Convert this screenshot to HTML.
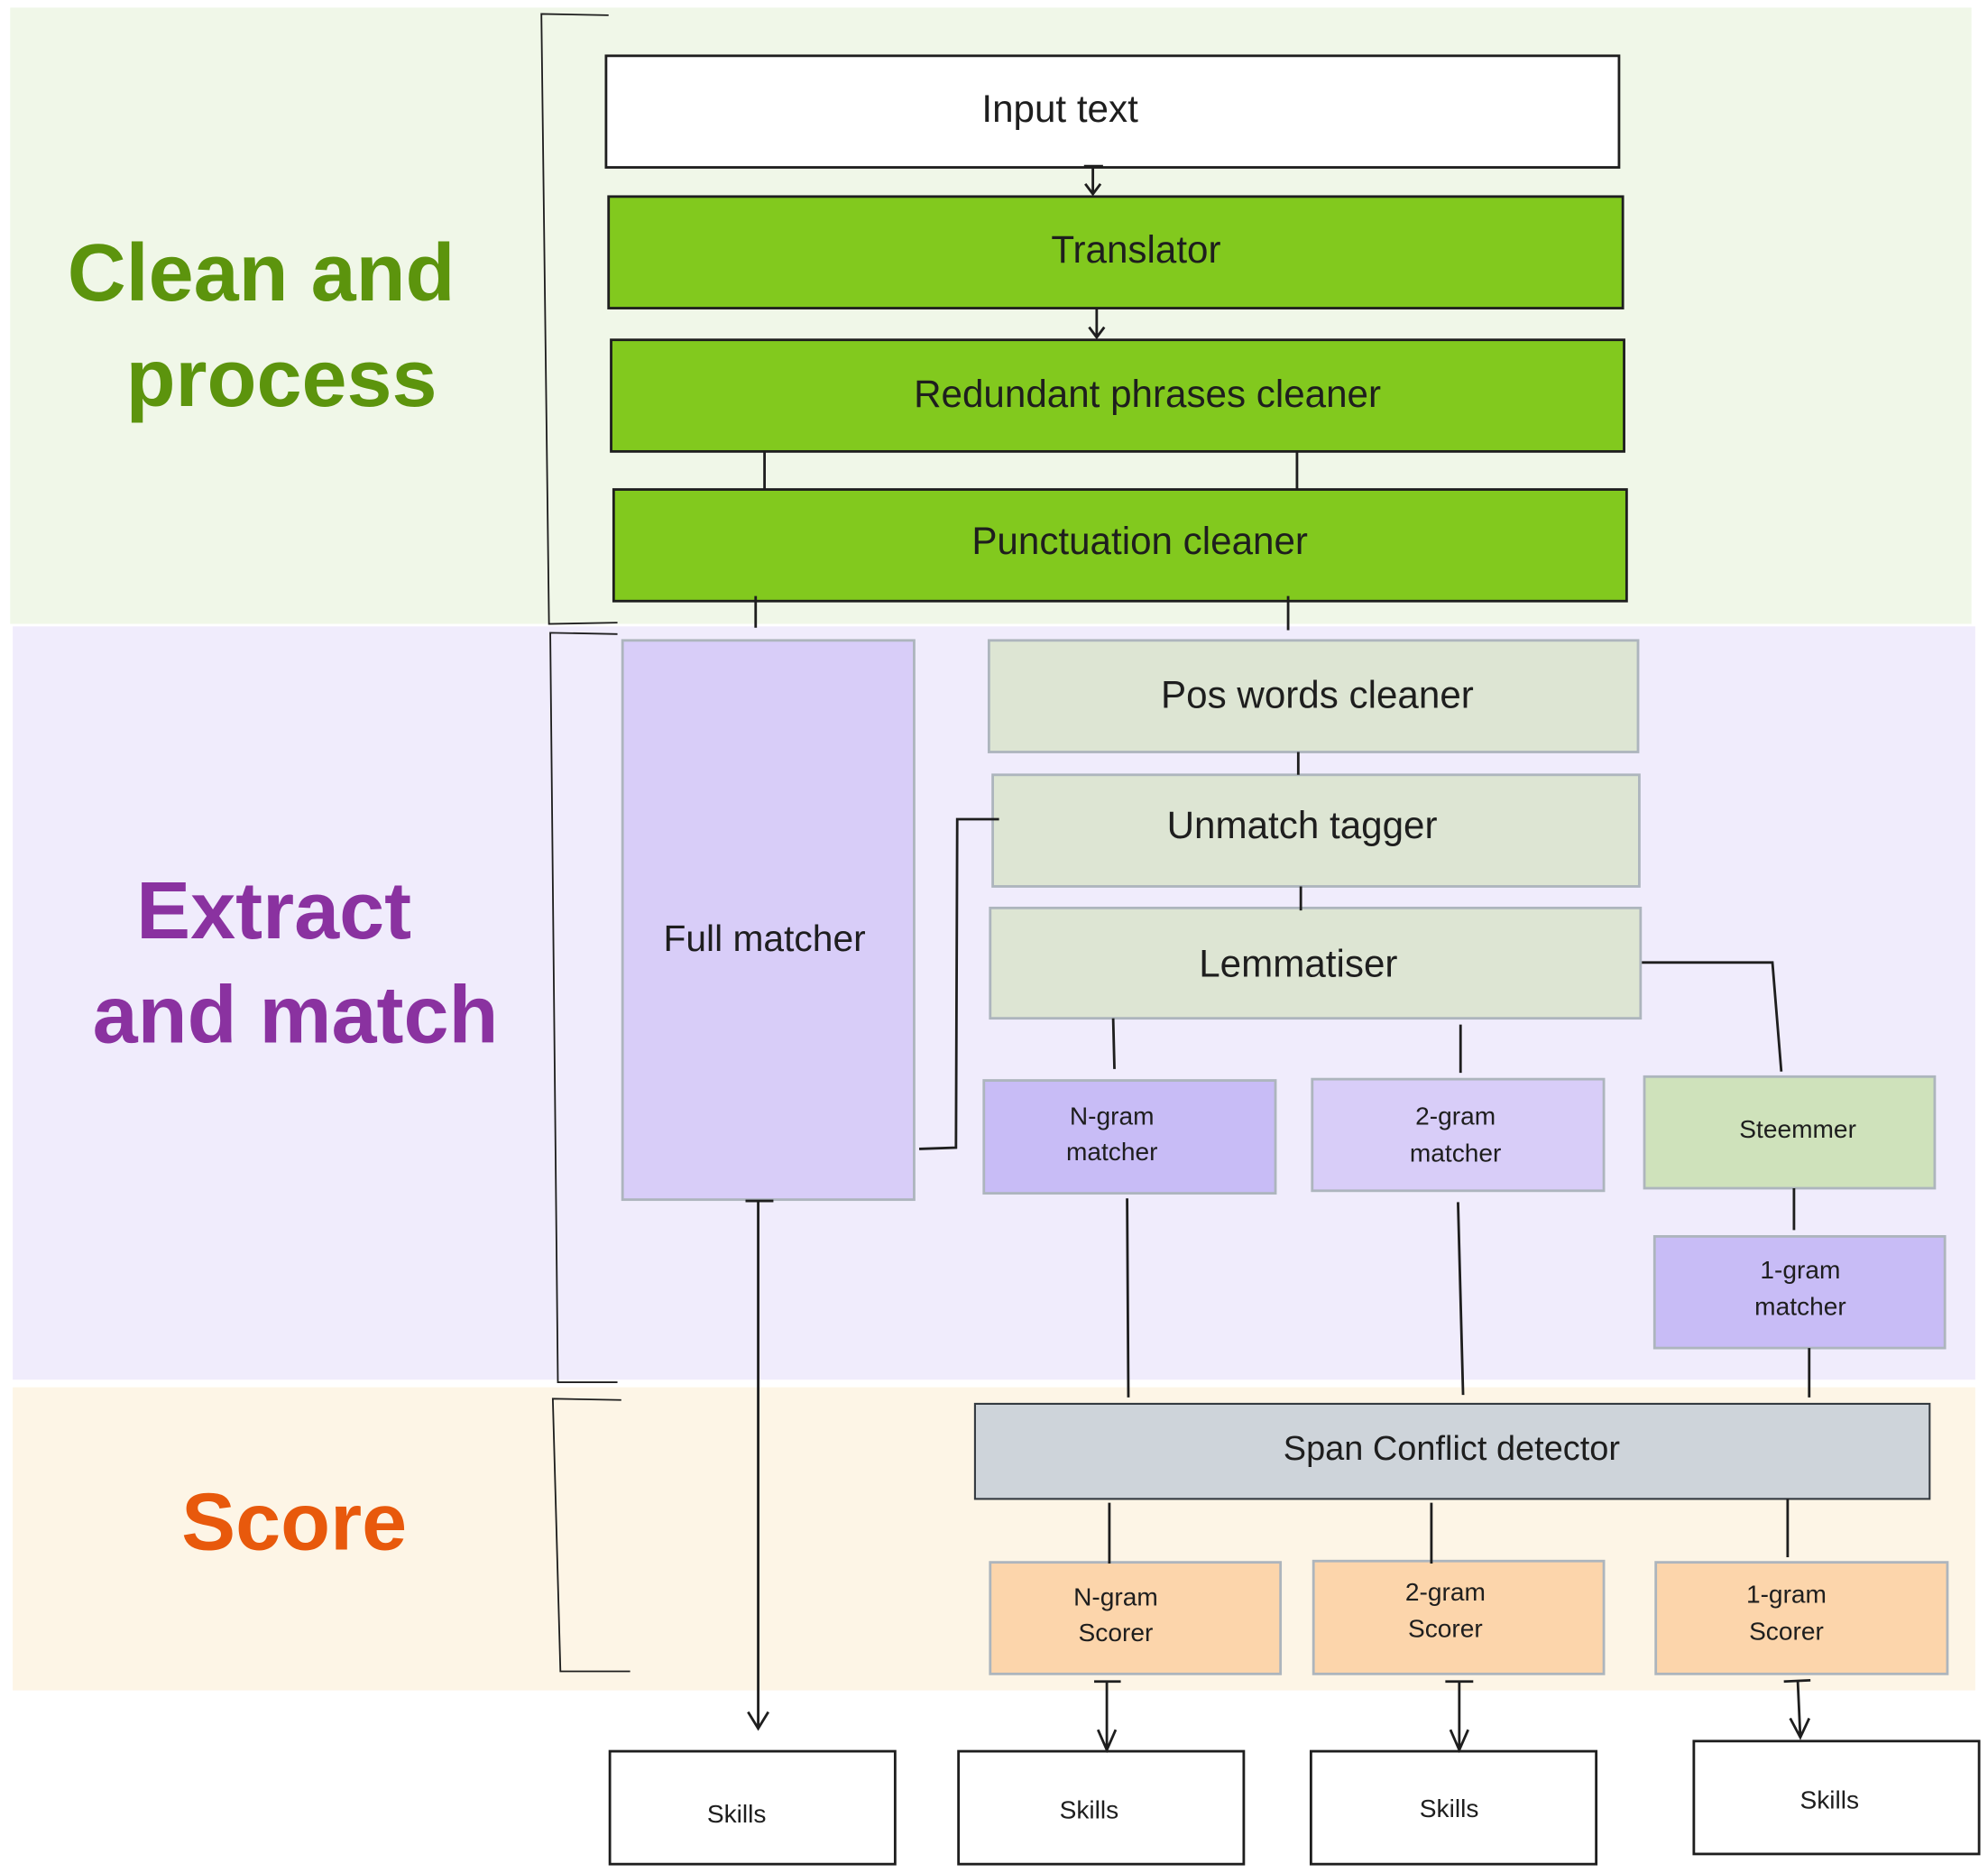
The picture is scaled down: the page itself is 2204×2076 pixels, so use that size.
<!DOCTYPE html>
<html><head><meta charset="utf-8"><style>
html,body{margin:0;padding:0;background:#fff;}
svg{display:block;}
text{font-family:"Liberation Sans",sans-serif;}
</style></head><body>
<svg width="2204" height="2076" viewBox="0 0 1568 1477" xmlns="http://www.w3.org/2000/svg">
<rect x="0" y="0" width="1568" height="1477" fill="#fff"/>
<!-- bands -->
<rect x="8" y="6" width="1547" height="486" fill="#f0f7e8"/>
<rect x="10" y="494" width="1548" height="594" fill="#f0ecfc"/>
<rect x="10" y="1094" width="1548" height="239" fill="#fdf5e6"/>
<!-- brackets -->
<g fill="none" stroke="#1e1e1e" stroke-width="1.3">
<path d="M480 12 L427 11 L433 492 L487 491"/>
<path d="M487 500 L434 499 L440 1090 L487 1090"/>
<path d="M490 1104 L436 1103 L442 1318 L497 1318"/>
</g>
<!-- side labels -->
<g font-size="64" font-weight="bold" text-anchor="middle">
<text x="206" y="237" fill="#5c940d">Clean and</text>
<text x="222" y="320" fill="#5c940d">process</text>
<text x="216" y="740" fill="#8a32a0">Extract</text>
<text x="233" y="822" fill="#8a32a0">and match</text>
<text x="232" y="1222" fill="#e8590c">Score</text>
</g>
<!-- boxes -->
<g stroke="#1e1e1e" stroke-width="2">
<rect x="478" y="44" width="799" height="88" fill="#fff"/>
<rect x="480" y="155" width="800" height="88" fill="#82c91e"/>
<rect x="482" y="268" width="799" height="88" fill="#82c91e"/>
<rect x="484" y="386" width="799" height="88" fill="#82c91e"/>
</g>
<g stroke="#adb5bd" stroke-width="2">
<rect x="491" y="505" width="230" height="441" fill="#d8cdf8"/>
<rect x="780" y="505" width="512" height="88" fill="#dde5d3"/>
<rect x="783" y="611" width="510" height="88" fill="#dde5d3"/>
<rect x="781" y="716" width="513" height="87" fill="#dde5d3"/>
<rect x="776" y="852" width="230" height="89" fill="#c8bcf6"/>
<rect x="1035" y="851" width="230" height="88" fill="#d8cdf8"/>
<rect x="1297" y="849" width="229" height="88" fill="#cfe2bb"/>
<rect x="1305" y="975" width="229" height="88" fill="#c8bcf6"/>
<rect x="781" y="1232" width="229" height="88" fill="#fcd5ab"/>
<rect x="1036" y="1231" width="229" height="89" fill="#fcd5ab"/>
<rect x="1306" y="1232" width="230" height="88" fill="#fcd5ab"/>
</g>
<rect x="769" y="1107" width="753" height="75" fill="#ced4da" stroke="#343a40" stroke-width="1.5"/>
<g stroke="#1e1e1e" stroke-width="2" fill="#fff">
<rect x="481" y="1381" width="225" height="89"/>
<rect x="756" y="1381" width="225" height="89"/>
<rect x="1034" y="1381" width="225" height="89"/>
<rect x="1336" y="1373" width="225" height="89"/>
</g>
<!-- connectors -->
<g stroke="#1e1e1e" stroke-width="2" fill="none">
<path d="M862 130 L862 153 M856 145 L862 153 L868 145 M855 131 L870 131"/>
<path d="M865 243 L865 266 M859 258 L865 266 L871 258"/>
<path d="M603 356 L603 386 M1023 356 L1023 386"/>
<path d="M596 470 L596 495 M1016 470 L1016 497"/>
<path d="M1024 593 L1024 611 M1026 699 L1026 718"/>
<path d="M788 646 L755 646 L754 905 L725 906"/>
<path d="M1295 759 L1398 759 L1405 845"/>
<path d="M878 803 L879 843 M1152 808 L1152 846 M1415 937 L1415 970"/>
<path d="M889 945 L890 1102 M1150 948 L1154 1100 M1427 1063 L1427 1102"/>
<path d="M875 1185 L875 1233 M1129 1185 L1129 1233 M1410 1182 L1410 1228"/>
<path d="M598 946 L598 1363 M590 1350 L598 1363 L606 1350 M588 947 L610 947"/>
<path d="M873 1326 L873 1380 M866 1364 L873 1380 L880 1364 M863 1326 L884 1326"/>
<path d="M1151 1326 L1151 1380 M1144 1364 L1151 1380 L1158 1364 M1140 1326 L1162 1326"/>
<path d="M1418 1326 L1420 1370 M1412 1355 L1420 1370 L1427 1355 M1407 1326 L1428 1325"/>
</g>
<!-- labels -->
<g fill="#1e1e1e" text-anchor="middle" font-size="30">
<text x="836" y="96">Input text</text>
<text x="896" y="207">Translator</text>
<text x="905" y="321">Redundant phrases cleaner</text>
<text x="899" y="437">Punctuation cleaner</text>
<text x="603" y="750" font-size="29">Full matcher</text>
<text x="1039" y="558">Pos words cleaner</text>
<text x="1027" y="661">Unmatch tagger</text>
<text x="1024" y="770">Lemmatiser</text>
<text x="1145" y="1151" font-size="27">Span Conflict detector</text>
</g>
<g fill="#1e1e1e" text-anchor="middle" font-size="20">
<text x="877" y="887">N-gram</text><text x="877" y="915">matcher</text>
<text x="1148" y="887">2-gram</text><text x="1148" y="916">matcher</text>
<text x="1418" y="897">Steemmer</text>
<text x="1420" y="1008">1-gram</text><text x="1420" y="1037">matcher</text>
<text x="880" y="1266">N-gram</text><text x="880" y="1294">Scorer</text>
<text x="1140" y="1262">2-gram</text><text x="1140" y="1291">Scorer</text>
<text x="1409" y="1264">1-gram</text><text x="1409" y="1293">Scorer</text>
<text x="581" y="1437">Skills</text>
<text x="859" y="1434">Skills</text>
<text x="1143" y="1433">Skills</text>
<text x="1443" y="1426">Skills</text>
</g>
</svg>
</body></html>
